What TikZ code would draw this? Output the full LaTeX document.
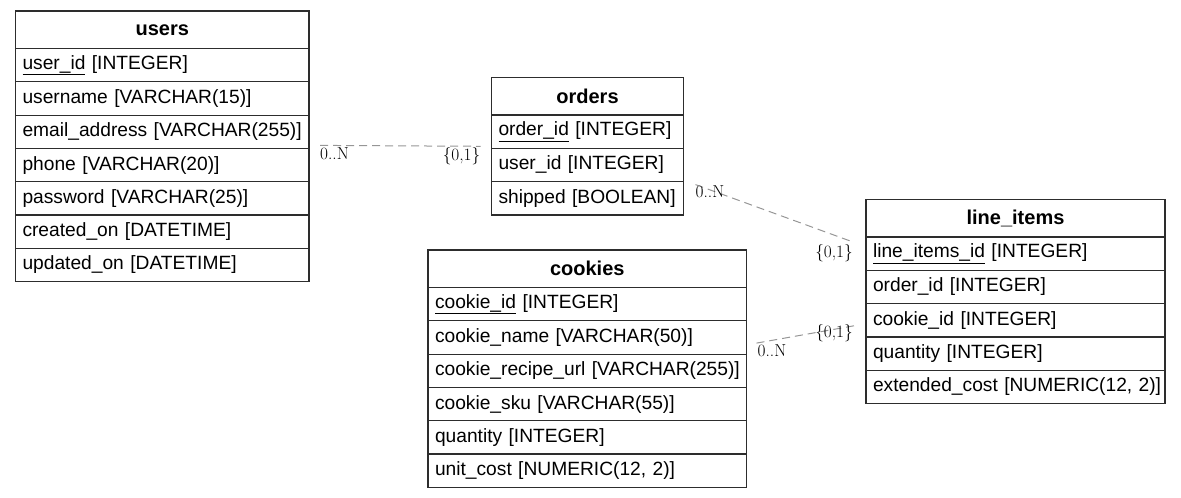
\documentclass[tikz,border=0pt]{standalone}
\usepackage{fontspec}
\newfontfamily\arialf{Liberation Sans}
\definecolor{boxline}{RGB}{45,45,45}
\definecolor{relline}{RGB}{150,150,150}
\tikzset{
  hdr/.style={draw=boxline, line width=1.2pt, anchor=north west, minimum height=37.5pt,
    inner sep=0pt, outer sep=0pt, font=\arialf\fontsize{20}{24}\selectfont\bfseries, text=black},
  row/.style={draw=boxline, line width=1.2pt, anchor=north west, minimum height=33.3pt,
    inner xsep=7pt, inner ysep=0pt, outer sep=0pt, text width=#1, align=left,
    font=\arialf\fontsize{19.2}{22}\selectfont, text=black},
  rel/.style={draw=relline, line width=1pt, dash pattern=on 8pt off 5pt},
  lbl/.style={inner sep=0pt, font=\fontsize{17.3}{20}\selectfont, text=black}
}
\begin{document}
\begin{tikzpicture}[x=1pt,y=-1pt]
\useasboundingbox (0,0) rectangle (1181,498);
% users
\node[hdr, minimum width=293.5pt] (u0) at (15.5,11) {users};
\node[row=279.5pt] (u1) at (u0.south west) {\mbox{\underline{user\_id} [INTEGER]}};
\node[row=279.5pt] (u2) at (u1.south west) {\mbox{username [VARCHAR(15)]}};
\node[row=279.5pt] (u3) at (u2.south west) {\mbox{email\_address [VARCHAR(255)]}};
\node[row=279.5pt] (u4) at (u3.south west) {\mbox{phone [VARCHAR(20)]}};
\node[row=279.5pt] (u5) at (u4.south west) {\mbox{password [VARCHAR(25)]}};
\node[row=279.5pt] (u6) at (u5.south west) {\mbox{created\_on [DATETIME]}};
\node[row=279.5pt] (u7) at (u6.south west) {\mbox{updated\_on [DATETIME]}};
% orders
\node[hdr, minimum width=192pt] (o0) at (491.5,77.5) {orders};
\node[row=178pt] (o1) at (o0.south west) {\mbox{\underline{order\_id} [INTEGER]}};
\node[row=178pt] (o2) at (o1.south west) {\mbox{user\_id [INTEGER]}};
\node[row=178pt] (o3) at (o2.south west) {\mbox{shipped [BOOLEAN]}};
% line_items
\node[hdr, minimum width=299pt] (l0) at (866,199.5) {line\_items};
\node[row=285pt] (l1) at (l0.south west) {\mbox{\underline{line\_items\_id} [INTEGER]}};
\node[row=285pt] (l2) at (l1.south west) {\mbox{order\_id [INTEGER]}};
\node[row=285pt] (l3) at (l2.south west) {\mbox{cookie\_id [INTEGER]}};
\node[row=285pt] (l4) at (l3.south west) {\mbox{quantity [INTEGER]}};
\node[row=285pt] (l5) at (l4.south west) {\mbox{extended\_cost [NUMERIC(12, 2)]}};
% cookies
\node[hdr, minimum width=318.5pt] (c0) at (428,250) {cookies};
\node[row=304.5pt] (c1) at (c0.south west) {\mbox{\underline{cookie\_id} [INTEGER]}};
\node[row=304.5pt] (c2) at (c1.south west) {\mbox{cookie\_name [VARCHAR(50)]}};
\node[row=304.5pt] (c3) at (c2.south west) {\mbox{cookie\_recipe\_url [VARCHAR(255)]}};
\node[row=304.5pt] (c4) at (c3.south west) {\mbox{cookie\_sku [VARCHAR(55)]}};
\node[row=304.5pt] (c5) at (c4.south west) {\mbox{quantity [INTEGER]}};
\node[row=304.5pt] (c6) at (c5.south west) {\mbox{unit\_cost [NUMERIC(12, 2)]}};
% connector end points
\coordinate (r1a) at ([xshift=11pt,yshift=3pt]u3.south east);
\coordinate (r1b) at ([xshift=-11pt,yshift=2pt]o2.north west);
\coordinate (r2a) at ([xshift=12pt,yshift=-3pt]o3.north east);
\coordinate (r2b) at ([xshift=-13pt,yshift=-5pt]l1.north west);
\coordinate (r3a) at ([xshift=10pt,yshift=11pt]c2.south east);
\coordinate (r3b) at ([xshift=-11pt,yshift=-22pt]l3.north west);
\draw[rel] (r1a) -- (r1b);
\draw[rel] (r2a) -- (r2b);
\draw[rel] (r3a) -- (r3b);
% cardinality labels
\node[lbl, anchor=base west] (k1a) at ([yshift=-14pt]r1a) {0..N};
\node[lbl, anchor=base east] (k1b) at ([yshift=-14pt]r1b) {\{0,1\}};
\node[lbl, anchor=base west] (k2a) at ([yshift=-13pt]r2a) {0..N};
\node[lbl, anchor=base east] (k2b) at ([yshift=-15pt]r2b) {\{0,1\}};
\node[lbl, anchor=base west] (k3a) at ([xshift=1pt,yshift=-13pt]r3a) {0..N};
\node[lbl, anchor=base east] (k3b) at ([xshift=-2pt,yshift=-12pt]r3b) {\{0,1\}};
\end{tikzpicture}
\end{document}
